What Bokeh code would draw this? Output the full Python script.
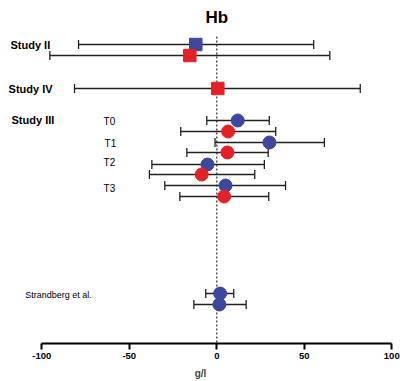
from bokeh.plotting import figure
from bokeh.models import Range1d, FixedTicker
from bokeh.core.properties import value
from bokeh.embed import file_html
from bokeh.resources import INLINE

# ---- data (g/l) ----
row_labels = ["Study II", "Study II", "Study IV",
              "T0", "T0", "T1", "T1", "T2", "T2", "T3", "T3",
              "Strandberg", "Strandberg"]
row_series = ["blue", "red", "red",
              "blue", "red", "blue", "red", "blue", "red", "blue", "red",
              "blue", "blue"]
row_marker = ["square", "square", "square",
              "circle", "circle", "circle", "circle", "circle", "circle", "circle", "circle",
              "circle", "circle"]
means = [-12, -15.4, 0.6, 12, 6.5, 30.1, 6.1, -5.3, -8.6, 5, 4.2, 1.9, 1.5]
lows = [-79, -95.4, -81.3, -5.7, -20.6, -1, -17.1, -37.1, -38.5, -29.7, -21.1, -6.3, -13.1]
highs = [55.4, 64.6, 82, 30, 33.7, 61.5, 29.4, 27.2, 21.7, 39.3, 29.7, 9.7, 16.8]
x_ticks = [-100, -50, 0, 50, 100]
x_tick_labels = ["-100", "-50", "0", "50", "100"]

# ---- layout (vertical row positions, pixel-like units, top = 0) ----
row_y = [44, 55, 88, 120, 131, 142, 152, 164, 174, 185, 196, 293, 304]

colors = {"blue": "#3c479d", "red": "#e32228"}
FONT = "Liberation Sans"

p = figure(width=400, height=381, output_backend="svg", toolbar_location=None,
           x_range=Range1d(-123.6, 105.0), y_range=Range1d(343, 0),
           min_border_left=0, min_border_right=0, min_border_top=0, min_border_bottom=38)
p.outline_line_color = None
p.grid.visible = False
p.yaxis.visible = False
p.background_fill_color = "white"

ax = p.xaxis[0]
ax.bounds = (-100, 100)
ax.ticker = FixedTicker(ticks=x_ticks)
ax.major_label_overrides = {t: s for t, s in zip(x_ticks, x_tick_labels)}
ax.minor_tick_line_color = None
ax.major_tick_out = 6
ax.major_tick_in = 0
ax.axis_line_width = 2
ax.major_tick_line_width = 2
ax.axis_line_color = "black"
ax.major_tick_line_color = "black"
ax.major_label_text_font = FONT
ax.major_label_text_font_style = "bold"
ax.major_label_text_font_size = "9.5px"
ax.major_label_text_color = "black"
ax.major_label_standoff = 3
ax.axis_label = "g/l"
ax.axis_label_text_font = FONT
ax.axis_label_text_font_style = "bold"
ax.axis_label_text_font_size = "10px"
ax.axis_label_standoff = 6

# reference line at zero
p.segment(x0=[0], y0=[36], x1=[0], y1=[343], line_color="#555555", line_width=1.5, line_dash="2 2")

# error bars
p.segment(x0=lows, y0=row_y, x1=highs, y1=row_y, line_color="#222222", line_width=1.3)
cap_top = [y - 4.5 for y in row_y]
cap_bot = [y + 4.5 for y in row_y]
p.segment(x0=lows, y0=cap_top, x1=lows, y1=cap_bot, line_color="#222222", line_width=1.3)
p.segment(x0=highs, y0=cap_top, x1=highs, y1=cap_bot, line_color="#222222", line_width=1.3)

# markers
for i in range(len(means)):
    c = colors[row_series[i]]
    if row_marker[i] == "square":
        p.scatter([means[i]], [row_y[i]], marker="square", size=12.5, fill_color=c, line_color=c)
    else:
        p.scatter([means[i]], [row_y[i]], marker="circle", size=13, fill_color=c, line_color=c)

# texts
p.text(x=[0], y=[17], text=["Hb"], text_font=value(FONT), text_font_style="bold",
       text_font_size="17px", text_align="center", text_baseline="middle", text_color="black")
p.text(x=[-117.9, -119.0, -117.3], y=[44, 88, 119], text=["Study II", "Study IV", "Study III"],
       text_font=value(FONT), text_font_style="bold", text_font_size="11px",
       text_align="left", text_baseline="middle", text_color="black")
p.text(x=[-64.7, -64.1, -64.7, -64.7], y=[121, 143, 162, 188], text=["T0", "T1", "T2", "T3"],
       text_font=value(FONT), text_font_size="10px",
       text_align="left", text_baseline="middle", text_color="black")
p.text(x=[-109.5], y=[294], text=["Strandberg et al."],
       text_font=value(FONT), text_font_size="9px",
       text_align="left", text_baseline="middle", text_color="black")

open("out.html", "w").write(file_html(p, INLINE))
